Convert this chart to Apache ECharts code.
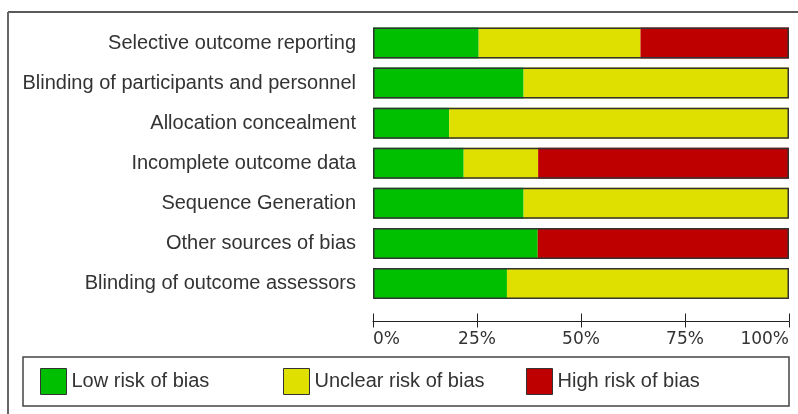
<!DOCTYPE html>
<html>
<head>
<meta charset="utf-8">
<script src="https://cdn.jsdelivr.net/npm/echarts@6/dist/echarts.min.js"></script>
<style>html,body{margin:0;padding:0;background:#fff;}#c{width:798px;height:414px;}</style>
</head>
<body>
<div id="c"></div>
<script>
const categories = ["Selective outcome reporting","Blinding of participants and personnel","Allocation concealment","Incomplete outcome data","Sequence Generation","Other sources of bias","Blinding of outcome assessors"];
const lowRisk = [25.4, 36.2, 18.3, 21.8, 36.2, 39.6, 32.2];
const unclearRisk = [38.9, 63.8, 81.7, 17.9, 63.8, 0, 67.8];
const highRisk = [35.7, 0, 0, 60.3, 0, 60.4, 0];
const tickValues = [0, 25, 50, 75, 100];
const seriesNames = ["Low risk of bias", "Unclear risk of bias", "High risk of bias"];
const colors = ["#00BF00", "#DFDF00", "#BF0000"];
const totals = lowRisk.map((v, i) => v + unclearRisk[i] + highRisk[i]);

const chart = echarts.init(document.getElementById('c'), null, {renderer: 'canvas'});
const font = '"Liberation Sans", Arial, sans-serif';
const legendBase = {
  orient: 'horizontal', top: 368, padding: 0,
  icon: 'rect', itemWidth: 26, itemHeight: 26,
  itemStyle: {borderColor: '#333', borderWidth: 1},
  textStyle: {fontFamily: font, fontSize: 20, color: '#333'},
  selectedMode: false
};
chart.setOption({
  animation: false,
  backgroundColor: '#fff',
  grid: {left: 373, right: 9, top: 23, bottom: 110.5, containLabel: false},
  legend: [
    Object.assign({}, legendBase, {left: 40, data: [seriesNames[0]]}),
    Object.assign({}, legendBase, {left: 283, data: [seriesNames[1]]}),
    Object.assign({}, legendBase, {left: 526, data: [seriesNames[2]]})
  ],
  xAxis: [{
    type: 'value', min: 0, max: 100, interval: 25, position: 'bottom', offset: 18,
    splitLine: {show: false},
    axisLine: {show: true, lineStyle: {color: '#222', width: 1}},
    axisTick: {show: true, length: 6, lineStyle: {color: '#222', width: 1}},
    axisLabel: {
      show: true, margin: 10, fontFamily: '"DejaVu Sans", Verdana, sans-serif', fontSize: 17, color: '#333',
      alignMinLabel: 'left', alignMaxLabel: 'right',
      formatter: v => tickValues.includes(v) ? v + '%' : ''
    }
  }, {
    type: 'value', min: 0, max: 100, interval: 25, position: 'bottom', offset: 18,
    splitLine: {show: false},
    axisLine: {show: false},
    axisTick: {show: true, inside: true, length: 8, lineStyle: {color: '#222', width: 1}},
    axisLabel: {show: false}
  }],
  yAxis: {
    type: 'category', data: categories, inverse: true,
    axisLine: {show: false}, axisTick: {show: false}, splitLine: {show: false},
    axisLabel: {margin: 17, fontFamily: font, fontSize: 20, color: '#333', padding: [5, 0, 0, 0]}
  },
  series: [
    {name: seriesNames[0], type: 'bar', stack: 'risk', data: lowRisk, barWidth: 31, itemStyle: {color: colors[0]}, silent: true},
    {name: seriesNames[1], type: 'bar', stack: 'risk', data: unclearRisk, barWidth: 31, itemStyle: {color: colors[1]}, silent: true},
    {name: seriesNames[2], type: 'bar', stack: 'risk', data: highRisk, barWidth: 31, itemStyle: {color: colors[2]}, silent: true},
    {name: 'outline', type: 'bar', data: totals, barWidth: 31, barGap: '-100%', z: 5, silent: true,
     itemStyle: {color: 'rgba(0,0,0,0)', borderColor: '#333', borderWidth: 1.5}}
  ],
  graphic: [
    {type: 'line', shape: {x1: 8, y1: 12, x2: 798, y2: 12}, style: {stroke: '#222', lineWidth: 1.5}, silent: true},
    {type: 'line', shape: {x1: 8, y1: 12, x2: 8, y2: 414}, style: {stroke: '#666', lineWidth: 2}, silent: true},
    {type: 'rect', shape: {x: 23, y: 357, width: 766, height: 49}, style: {fill: 'none', stroke: '#444', lineWidth: 1.5}, silent: true, z: -1}
  ]
});
</script>
</body>
</html>
